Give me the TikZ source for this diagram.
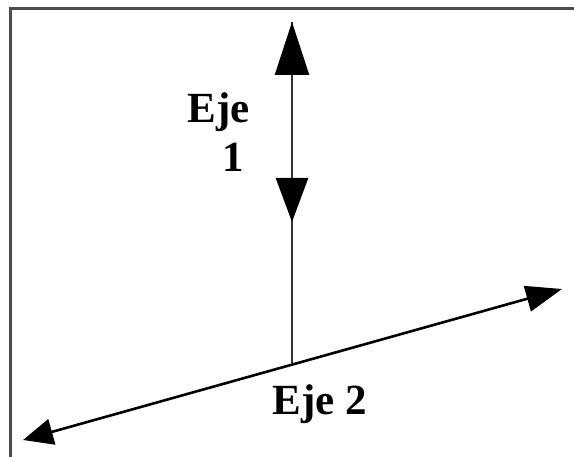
\documentclass[tikz,border=0pt]{standalone}
\usepackage{fontspec}
\setmainfont{Liberation Serif}
\usetikzlibrary{arrows.meta,positioning}

\begin{document}
\begin{tikzpicture}[x=1pt,y=-1pt,
    axis/.style={line width=2.6pt,black},
    lbl/.style={font=\fontsize{43}{46}\selectfont\bfseries,inner sep=0pt,anchor=base}]
  \useasboundingbox (0,0) rectangle (574,457);
  % ---- frame (top and left only)
  \draw[line width=3pt,black!70] (10,457) -- (10,9) -- (574,9);
  % ---- axis 1: vertical, arrow up at the top and arrow down half way
  \coordinate (top) at (292,22);
  \coordinate (mid) at (292,222);
  \coordinate (foot) at (292,363);
  \draw[line width=2.6pt,black!80] (top) -- (foot);
  \draw[line width=2.6pt,black!80,
        {Triangle[length=44pt,width=32pt,color=black]}-{Triangle[length=53pt,width=34pt,color=black]}]
        (mid) -- (top);
  \node[lbl] (eje) at (219,123) {Eje};
  \node[lbl] (uno) at (233,172) {1};
  % ---- axis 2: oblique, arrows at both ends
  \coordinate (left) at (23,440);
  \coordinate (right) at (562,289);
  \draw[axis,{Triangle[length=30pt,width=26pt]}-{Triangle[length=36pt,width=26pt]}]
        (left) -- (right);
  \node[lbl] (dos) at (320,415) {Eje 2};
\end{tikzpicture}
\end{document}
